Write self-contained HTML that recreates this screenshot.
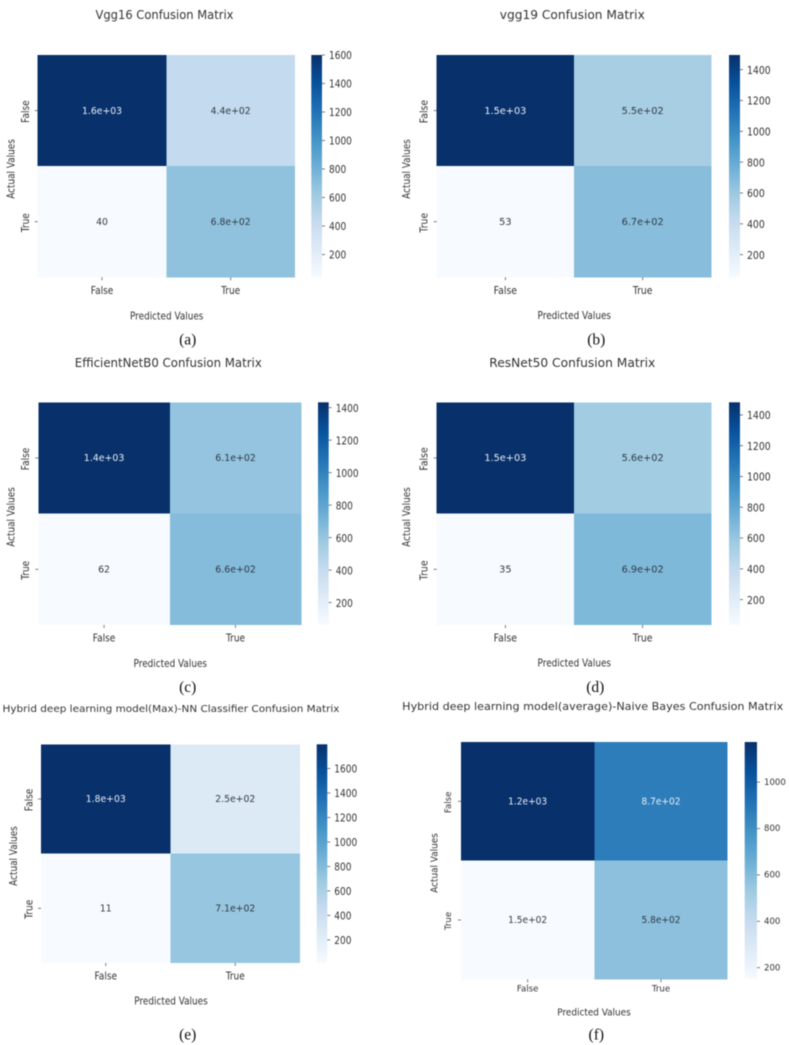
<!DOCTYPE html>
<html lang="en">
<head>
<meta charset="utf-8">
<title>Confusion Matrices</title>
<style>
  html, body { margin: 0; padding: 0; background: #ffffff; }
  #figure { display: block; filter: blur(0.4px); }
  text { font-family: "DejaVu Sans", "Liberation Sans", sans-serif; fill: #333333; }
  text.caption { font-family: "Liberation Serif", serif; fill: #111111; }
</style>
</head>
<body>
<svg id="figure" xmlns="http://www.w3.org/2000/svg" width="789" height="1045" viewBox="0 0 789 1045">
  <defs>
    <linearGradient id="blues-ramp" x1="0" y1="1" x2="0" y2="0"></linearGradient>
  </defs>
</svg>
<script>
// ---- Chart data ----
const categories = ['False', 'True'];
const xAxisTitle = 'Predicted Values';
const yAxisTitle = 'Actual Values';

const vgg16Values = [[1600, 440], [40, 680]];
const vgg19Values = [[1495, 550], [53, 670]];
const efficientNetValues = [[1433, 610], [62, 660]];
const resNetValues = [[1482, 560], [35, 690]];
const hybridMaxValues = [[1798, 250], [11, 710]];
const hybridAverageValues = [[1173, 870], [150, 580]];

const vgg16Ticks = [200, 400, 600, 800, 1000, 1200, 1400, 1600];
const vgg19Ticks = [200, 400, 600, 800, 1000, 1200, 1400];
const efficientNetTicks = [200, 400, 600, 800, 1000, 1200, 1400];
const resNetTicks = [200, 400, 600, 800, 1000, 1200, 1400];
const hybridMaxTicks = [200, 400, 600, 800, 1000, 1200, 1400, 1600];
const hybridAverageTicks = [200, 400, 600, 800, 1000];

const panelTitles = [
  'Vgg16 Confusion Matrix',
  'vgg19 Confusion Matrix',
  'EfficientNetB0 Confusion Matrix',
  'ResNet50 Confusion Matrix',
  'Hybrid deep learning model(Max)-NN Classifier Confusion Matrix',
  'Hybrid deep learning model(average)-Naive Bayes Confusion Matrix'
];
const panelCaptions = ['(a)', '(b)', '(c)', '(d)', '(e)', '(f)'];
const panelValues = [vgg16Values, vgg19Values, efficientNetValues, resNetValues, hybridMaxValues, hybridAverageValues];
const panelTicks = [vgg16Ticks, vgg19Ticks, efficientNetTicks, resNetTicks, hybridMaxTicks, hybridAverageTicks];

// ---- Colormap (matplotlib Blues) ----
const bluesRamp = ['#f7fbff', '#deebf7', '#c6dbef', '#9ecae1', '#6baed6', '#4292c6', '#2171b5', '#08519c', '#08306b'];

// ---- Layout of each panel on the page (not data) ----
const panelFrames = [
  { l: 37.7, r: 295, t: 55, b: 277.3, cl: 311.3, cr: 322, titleX: 164.5, titleY: 14, titleW: 138, titleFs: 12.4, xTitleX: 166.7, xTitleY: 316, xTickY: 290, yTitleX: 11.3, yTitleY: 169, yTickX: 25.5, capX: 187.7, capY: 340, annotW: 40, tickFs: 9, hStretch: 1.18 },
  { l: 436.7, r: 711.3, t: 55, b: 277.3, cl: 729, cr: 740, titleX: 572.3, titleY: 14, titleW: 145, titleFs: 12.4, xTitleX: 574.3, xTitleY: 316, xTickY: 290, yTitleX: 407.7, yTitleY: 169, yTickX: 424, capX: 596.3, capY: 340, annotW: 42, tickFs: 9.3, hStretch: 1.15 },
  { l: 38.3, r: 301.3, t: 402.3, b: 625, cl: 318, cr: 328.7, titleX: 168.3, titleY: 361.7, titleW: 187, titleFs: 12.4, xTitleX: 170.3, xTitleY: 663.3, xTickY: 637.3, yTitleX: 11.7, yTitleY: 517, yTickX: 25.7, capX: 187.7, capY: 687.7, annotW: 40.5, tickFs: 9, hStretch: 1.18 },
  { l: 436.7, r: 711.3, t: 402.3, b: 625, cl: 729, cr: 740, titleX: 572.3, titleY: 361.7, titleW: 166, titleFs: 12.4, xTitleX: 574.3, xTitleY: 663.3, xTickY: 637.3, yTitleX: 407.7, yTitleY: 517, yTickX: 424, capX: 595.3, capY: 687.7, annotW: 42, tickFs: 9.3, hStretch: 1.15 },
  { l: 41, r: 300, t: 744.3, b: 963, cl: 316.7, cr: 327.3, titleX: 171, titleY: 709, titleW: 337, titleFs: 9.6, xTitleX: 171, xTitleY: 1000.7, xTickY: 975.3, yTitleX: 14, yTitleY: 856, yTickX: 29, capX: 187.7, capY: 1035, annotW: 40, tickFs: 9, hStretch: 1.18 },
  { l: 461, r: 727.7, t: 742, b: 979.3, cl: 744.7, cr: 757, titleX: 592.7, titleY: 706, titleW: 381, titleFs: 10.8, xTitleX: 594, xTitleY: 1012.3, xTickY: 989, yTitleX: 435, yTitleY: 863, yTickX: 449, capX: 596.3, capY: 1035, annotW: 39, tickFs: 8.6, hStretch: 1.05 }
];

const SVG_NS = 'http://www.w3.org/2000/svg';
const figure = document.getElementById('figure');

function hexToRgb(hex) {
  return [1, 3, 5].map(function (i) { return parseInt(hex.slice(i, i + 2), 16); });
}

// Continuous Blues colormap lookup, t in [0, 1]
function blues(t) {
  const clamped = Math.max(0, Math.min(1, t));
  const pos = clamped * (bluesRamp.length - 1);
  const lo = Math.min(Math.floor(pos), bluesRamp.length - 2);
  const f = pos - lo;
  const a = hexToRgb(bluesRamp[lo]);
  const b = hexToRgb(bluesRamp[lo + 1]);
  return a.map(function (c, i) { return c + (b[i] - c) * f; });
}

function luminance(rgb) {
  const lin = rgb.map(function (c) {
    const s = c / 255;
    return s <= 0.03928 ? s / 12.92 : Math.pow((s + 0.055) / 1.055, 2.4);
  });
  return 0.2126 * lin[0] + 0.7152 * lin[1] + 0.0722 * lin[2];
}

function css(rgb) {
  return 'rgb(' + rgb.map(Math.round).join(',') + ')';
}

// Seaborn's default annotation format, fmt='.2g'
function formatAnnotation(v) {
  if (Math.abs(v) < 100) return String(Math.round(v));
  const parts = v.toExponential(1).split('e');
  const exp = parseInt(parts[1], 10);
  return parts[0] + 'e+' + (exp < 10 ? '0' + exp : exp);
}

function make(tag, attrs, parent, name) {
  const el = document.createElementNS(SVG_NS, tag);
  Object.keys(attrs).forEach(function (k) { el.setAttribute(k, attrs[k]); });
  
  
  parent.appendChild(el);
  return el;
}

function makeText(content, attrs, parent, name) {
  const el = make('text', attrs, parent, name);
  el.textContent = content;
  return el;
}

// The source figure's labels are horizontally squeezed: taller glyphs at the same run length.
function squeezedText(content, attrs, stretch, parent, name) {
  const el = makeText(content, attrs, parent, name);
  const base = parseFloat(attrs['font-size']);
  const runLength = el.getComputedTextLength();
  el.setAttribute('font-size', base * stretch);
  el.setAttribute('textLength', runLength);
  el.setAttribute('lengthAdjust', 'spacingAndGlyphs');
  return el;
}

function verticalLabel(content, x, y, size, stretch, parent, name) {
  return squeezedText(content, {
    x: x, y: y, 'font-size': size, 'text-anchor': 'middle', 'dominant-baseline': 'central',
    transform: 'rotate(-90 ' + x + ' ' + y + ')'
  }, stretch, parent, name);
}

// Build gradient stops for the colorbar from the ramp
const gradient = document.getElementById('blues-ramp');
bluesRamp.forEach(function (color, i) {
  const stop = document.createElementNS(SVG_NS, 'stop');
  stop.setAttribute('offset', (i / (bluesRamp.length - 1)) * 100 + '%');
  stop.setAttribute('stop-color', color);
  gradient.appendChild(stop);
});

function drawPanel(index) {
  const frame = panelFrames[index];
  const values = panelValues[index];
  const ticks = panelTicks[index];
  const flat = values[0].concat(values[1]);
  const vmin = Math.min.apply(null, flat);
  const vmax = Math.max.apply(null, flat);
  const cols = categories.length;
  const rows = values.length;
  const stretch = frame.hStretch;
  const glyphDrop = 0.7;

  const bandX = function (i) { return frame.l + (frame.r - frame.l) * i / cols; };
  const bandY = function (i) { return frame.t + (frame.b - frame.t) * i / rows; };
  const norm = function (v) { return (v - vmin) / (vmax - vmin); };
  const colorbarY = function (v) { return frame.b - norm(v) * (frame.b - frame.t); };

  const group = make('g', {}, figure, 'panel-' + panelCaptions[index].replace(/[()]/g, ''));

  makeText(panelTitles[index], {
    x: frame.titleX, y: frame.titleY + glyphDrop, 'font-size': frame.titleFs, 'text-anchor': 'middle',
    'dominant-baseline': 'central', textLength: frame.titleW, lengthAdjust: 'spacingAndGlyphs'
  }, group, 'chart-title');

  // Heatmap cells and annotations
  values.forEach(function (row, r) {
    row.forEach(function (value, c) {
      const rgb = blues(norm(value));
      make('rect', {
        x: bandX(c), y: bandY(r), width: bandX(c + 1) - bandX(c), height: bandY(r + 1) - bandY(r),
        fill: css(rgb), 'shape-rendering': 'crispEdges'
      }, group, 'cell-' + categories[r].toLowerCase() + '-' + categories[c].toLowerCase());
      const label = formatAnnotation(value);
      const annotation = makeText(label, {
        x: (bandX(c) + bandX(c + 1)) / 2, y: (bandY(r) + bandY(r + 1)) / 2 + glyphDrop,
        'font-size': 10, 'text-anchor': 'middle', 'dominant-baseline': 'central'
      }, group, 'annotation-' + categories[r].toLowerCase() + '-' + categories[c].toLowerCase());
      const naturalLength = annotation.getComputedTextLength();
      const fullLength = 43.15;
      annotation.setAttribute('textLength', naturalLength * frame.annotW / fullLength);
      annotation.setAttribute('lengthAdjust', 'spacingAndGlyphs');
      annotation.style.fill = luminance(rgb) < 0.408 ? '#e8eef4' : '#303a44';
    });
  });

  // X axis
  categories.forEach(function (label, i) {
    const cx = (bandX(i) + bandX(i + 1)) / 2;
    make('line', { x1: cx, x2: cx, y1: frame.b, y2: frame.b + 3, stroke: '#444', 'stroke-width': 0.7 }, group, 'x-tick-mark');
    squeezedText(label, { x: cx, y: frame.xTickY + glyphDrop, 'font-size': frame.tickFs, 'text-anchor': 'middle', 'dominant-baseline': 'central' }, stretch, group, 'x-tick-label');
  });
  squeezedText(xAxisTitle, { x: frame.xTitleX, y: frame.xTitleY + glyphDrop, 'font-size': 8.9, 'text-anchor': 'middle', 'dominant-baseline': 'central' }, stretch, group, 'x-axis-title');

  // Y axis
  categories.forEach(function (label, i) {
    const cy = (bandY(i) + bandY(i + 1)) / 2;
    make('line', { x1: frame.l - 3, x2: frame.l, y1: cy, y2: cy, stroke: '#444', 'stroke-width': 0.7 }, group, 'y-tick-mark');
    verticalLabel(label, frame.yTickX, cy + 1, frame.tickFs, stretch, group, 'y-tick-label');
  });
  verticalLabel(yAxisTitle, frame.yTitleX, frame.yTitleY, 8.9, stretch, group, 'y-axis-title');

  // Colorbar
  make('rect', {
    x: frame.cl, y: frame.t, width: frame.cr - frame.cl, height: frame.b - frame.t, fill: 'url(#blues-ramp)'
  }, group, 'colorbar');
  ticks.forEach(function (tick) {
    const ty = colorbarY(tick);
    make('line', { x1: frame.cr, x2: frame.cr + 3, y1: ty, y2: ty, stroke: '#444', 'stroke-width': 0.7 }, group, 'colorbar-tick-mark');
    squeezedText(String(tick), { x: frame.cr + 7, y: ty + glyphDrop, 'font-size': frame.tickFs, 'dominant-baseline': 'central' }, stretch, group, 'colorbar-tick-label');
  });

  // Sub-figure caption
  const caption = makeText(panelCaptions[index], {
    x: frame.capX, y: frame.capY, 'font-size': 15.5, 'text-anchor': 'middle', 'dominant-baseline': 'central'
  }, group, 'panel-caption');
  caption.setAttribute('class', 'caption');
}

panelFrames.forEach(function (_, i) { drawPanel(i); });
</script>
</body>
</html>
